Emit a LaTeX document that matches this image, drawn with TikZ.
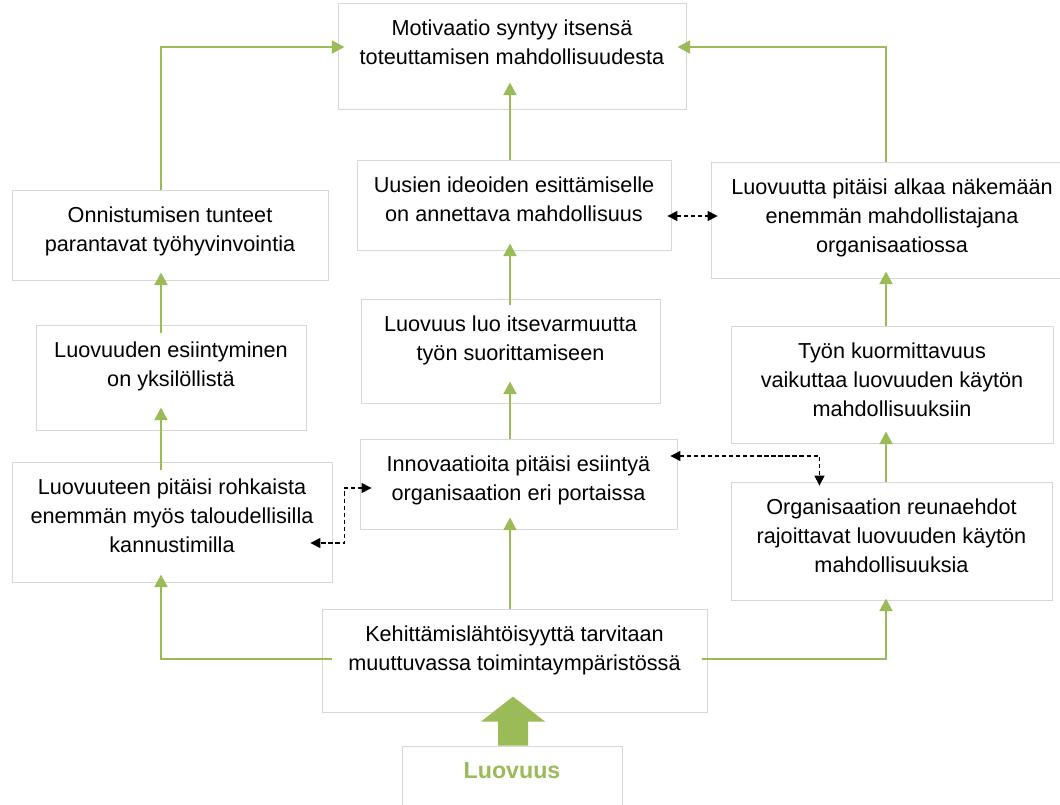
\documentclass[tikz,border=0pt]{standalone}
\usepackage{fontspec}
\setmainfont{Liberation Sans}
\usetikzlibrary{arrows.meta,calc,fit}

\definecolor{vihrea}{RGB}{155,187,89}
\definecolor{kehys}{RGB}{215,215,215}

\begin{document}
\begin{tikzpicture}[x=0.025cm, y=-0.025cm,
    frame/.style={draw=kehys, line width=0.6pt, fill=white, inner sep=0pt},
    txt/.style={align=center, inner sep=0pt, anchor=north, font=\fontsize{15.4}{20.6}\selectfont},
    garrow/.style={draw=vihrea, line width=2pt, -{Triangle[length=9pt,width=9pt]}},
    darrow/.style={black, line width=0.9pt, dash pattern=on 3pt off 2pt,
        {Triangle[length=7pt,width=7pt]}-{Triangle[length=7pt,width=7pt]}}]
    \useasboundingbox (0,0) rectangle (1060,804);
    \clip (0,0) rectangle (1060,804);

    % Laatikot
    \foreach \n/\xa/\ya/\xb/\yb/\t in {
        motiv/338/3/686/109/{Motivaatio syntyy itsensä\\toteuttamisen mahdollisuudesta},
        onn/12/190/328/280/{Onnistumisen tunteet\\parantavat työhyvinvointia},
        uus/357/160/671/250/{Uusien ideoiden esittämiselle\\on annettava mahdollisuus},
        luovt/711/162/1073/278/{Luovuutta pitäisi alkaa näkemään\\enemmän mahdollistajana\\organisaatiossa},
        lesi/36/325/306/430/{Luovuuden esiintyminen\\on yksilöllistä},
        luo/361/299/660/403/{Luovuus luo itsevarmuutta\\työn suorittamiseen},
        tyon/731/326/1053/443/{Työn kuormittavuus\\vaikuttaa luovuuden käytön\\mahdollisuuksiin},
        rohk/12/462/332/582/{Luovuuteen pitäisi rohkaista\\enemmän myös taloudellisilla\\kannustimilla},
        innov/360/439/677/529/{Innovaatioita pitäisi esiintyä\\organisaation eri portaissa},
        org/731/482/1052/600/{Organisaation reunaehdot\\rajoittavat luovuuden käytön\\mahdollisuuksia},
        kehit/322/609/707/712/{Kehittämislähtöisyyttä tarvitaan\\muuttuvassa toimintaympäristössä}} {
        \node[frame, fit={(\xa,\ya) (\xb,\yb)}] (\n) {};
        \node[txt] (\n-t) at ($(\n.north)+(0,17)$) {\t};
    }
    \node[frame, fit={(402,746) (622,830)}] (luov) {};
    \node[txt, font=\fontsize{16.5}{20.6}\selectfont\bfseries, text=vihrea] (luov-t) at ($(luov.north)+(0,17)$) {Luovuus};

    \coordinate (kx) at (510,0);
    \coordinate (vx) at (161,0);
    \coordinate (ox) at (886,0);
    \coordinate (ylin) at (0,47);
    \coordinate (ky) at (0,659);

    % Keskisarake
    \draw[garrow] (kx |- uus.north) -- ($(kx |- motiv.south)+(0,-27)$);
    \draw[garrow] ($(kx |- luo.north)+(0,6)$) -- ($(kx |- uus.south)+(0,-7)$);
    \draw[garrow] (kx |- innov.north) -- ($(kx |- luo.south)+(0,-22)$);
    \draw[garrow] (kx |- kehit.north) -- ($(kx |- innov.south)+(0,-12)$);

    % Vasen ja oikea sarake
    \draw[garrow] ($(vx |- lesi.north)+(0,8)$) -- ($(vx |- onn.south)+(0,-8)$);
    \draw[garrow] ($(vx |- rohk.north)+(0,8)$) -- ($(vx |- lesi.south)+(0,-23)$);
    \draw[garrow] (vx |- onn.north) |- ($(motiv.west |- ylin)+(7,0)$);
    \draw[garrow] (ox |- tyon.north) -- ($(ox |- luovt.south)+(0,-7)$);
    \draw[garrow] (ox |- org.north) -- ($(ox |- tyon.south)+(0,-12)$);
    \draw[garrow] (ox |- luovt.north) |- ($(motiv.east |- ylin)+(-9,0)$);
    \draw[garrow] ($(kehit.west |- ky)+(10,0)$) -| ($(vx |- rohk.south)+(0,-8)$);
    \draw[garrow] ($(kehit.east |- ky)+(-5,0)$) -| ($(ox |- org.south)+(0,-2)$);

    % Katkoviivat
    \draw[darrow] ($(uus.east)+(-4,11)$) -- ($(luovt.west |- uus.east)+(7,11)$);
    \draw[darrow] ($(innov.west)+(12,4)$) -| ($(rohk.east)+(12,21)$) -- ($(rohk.east)+(-22,21)$);
    \draw[darrow] ($(innov.east)+(-7,-28)$) -| ($(org.north)+(-72,4)$);

    % Iso nuoli
    \fill[vihrea] ($(luov.north)+(-14,0)$) -- ++(0,-24) -- ++(-17,0) -- ++(32,-25)
        -- ++(32,25) -- ++(-17,0) -- ++(0,24) -- cycle;
\end{tikzpicture}
\end{document}
